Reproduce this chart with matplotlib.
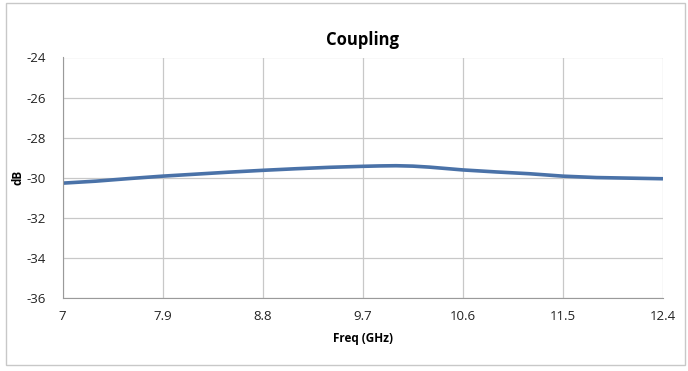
import matplotlib
matplotlib.use("Agg")
import matplotlib.pyplot as plt
from matplotlib.patches import Rectangle

freq = [7.0, 7.3, 7.6, 7.9, 8.2, 8.5, 8.8, 9.1, 9.4, 9.7, 9.85, 10.0, 10.15, 10.3, 10.45, 10.6,
        10.9, 11.2, 11.5, 11.8, 12.1, 12.4]
coupling = [-30.27, -30.17, -30.04, -29.92, -29.82, -29.72, -29.63, -29.55, -29.48, -29.43, -29.41,
            -29.40, -29.42, -29.47, -29.54, -29.61, -29.71, -29.80, -29.92, -29.99, -30.02, -30.05]
xticks = [7, 7.9, 8.8, 9.7, 10.6, 11.5, 12.4]
xticklabels = ["7", "7.9", "8.8", "9.7", "10.6", "11.5", "12.4"]
yticks = [-36, -34, -32, -30, -28, -26, -24]

plt.rcParams['font.family'] = ['Open Sans', 'DejaVu Sans']
plt.rcParams['axes.unicode_minus'] = False

fig = plt.figure(figsize=(6.88, 3.71), dpi=100)
fig.patches.append(Rectangle((6/688, 6/371), 679/688, 362/371, transform=fig.transFigure,
                             fill=False, edgecolor='#c8c8c8', linewidth=1))
ax = fig.add_axes([62.5/688, 73/371, 600.5/688, 240.5/371])

ax.plot(freq, coupling, color='#4a72a8', linewidth=2.6, solid_capstyle='butt', solid_joinstyle='round')
ax.set_xlim(7, 12.4)
ax.set_ylim(-36, -24)
ax.set_xticks(xticks)
ax.set_xticklabels(xticklabels)
ax.set_yticks(yticks)
ax.grid(True, color='#c8c8c8', linewidth=0.9)
ax.tick_params(length=0, labelsize=9.5, colors='#222222', pad=12)
ax.tick_params(axis='x', pad=9)
for s in ['top', 'right']:
    ax.spines[s].set_visible(False)
ax.spines['left'].set_color('#9a9a9a')
ax.spines['bottom'].set_color('#9a9a9a')
ax.axhline(-24, color='#555555', linewidth=1.2)
ax.set_xlabel('Freq (GHz)', fontsize=8.5, fontweight='bold', labelpad=6)
ax.set_ylabel('dB', fontsize=8.5, fontweight='bold')
ax.yaxis.set_label_coords(-38/600.5, 0.5)
ax.set_title('Coupling', fontsize=12, fontweight='bold', pad=9)

fig.savefig('out.png', dpi=100)
